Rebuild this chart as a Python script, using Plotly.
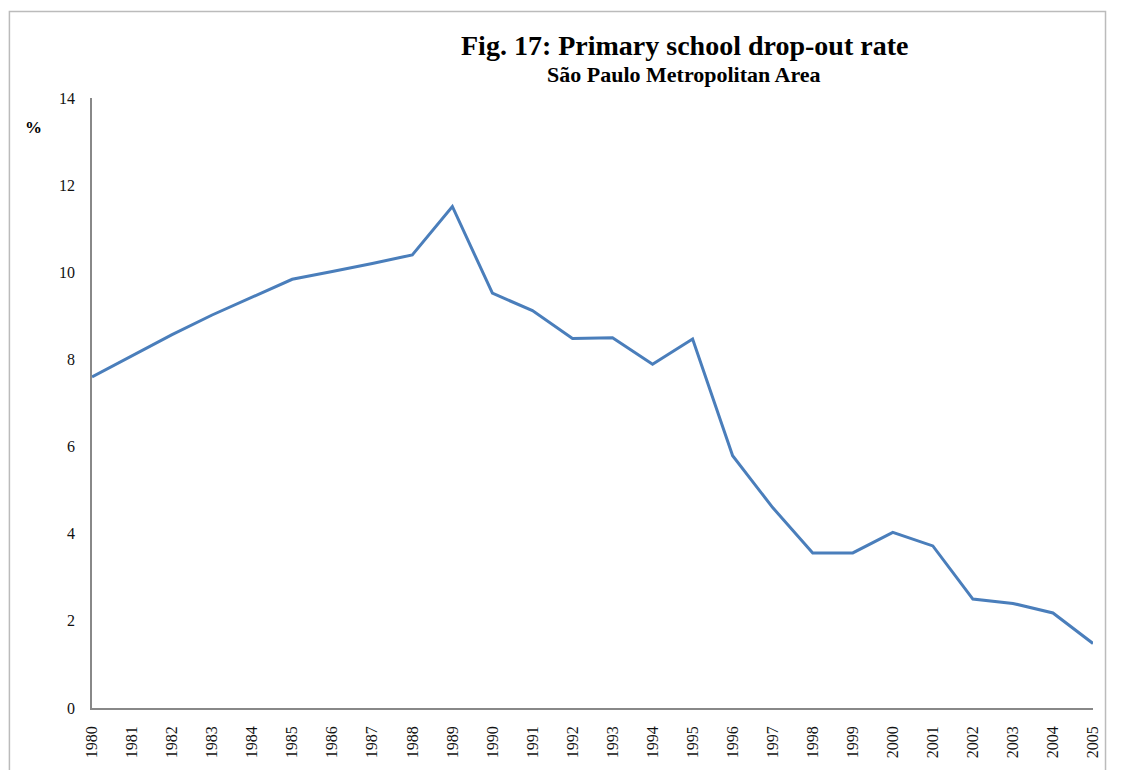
import plotly.graph_objects as go

years = list(range(1980, 2006))
rate = [7.6, 8.08, 8.57, 9.02, 9.43, 9.84, 10.02, 10.2, 10.4, 11.51,
        9.52, 9.12, 8.48, 8.5, 7.89, 8.47, 5.79, 4.6, 3.56, 3.56,
        4.03, 3.72, 2.5, 2.4, 2.18, 1.48]
y_ticks = [0, 2, 4, 6, 8, 10, 12, 14]

serif = "Liberation Serif, Times New Roman, serif"

fig = go.Figure()
fig.add_trace(go.Scatter(x=years, y=rate, mode="lines",
                         line=dict(color="#4a7ebb", width=3), showlegend=False))

# page body adds an 8px margin all round, so keep the figure inside the window
# (right margin leaves room for the 2005 label)
fig.update_layout(
    width=1105, height=762,
    margin=dict(l=84, r=14, t=90, b=51),
    paper_bgcolor="white", plot_bgcolor="white",
    font=dict(family=serif, color="#111", size=16),
)
fig.update_xaxes(range=[1980, 2005], tickvals=years, ticktext=[str(y) for y in years],
                 tickangle=-90, showgrid=False, zeroline=False,
                 showline=True, linecolor="#888", linewidth=1.5,
                 ticks="", ticklabelstandoff=10, tickfont=dict(size=16))
fig.update_yaxes(range=[0, 14], tickvals=y_ticks, showgrid=False, zeroline=False,
                 showline=True, linecolor="#888", linewidth=1.5,
                 ticks="", ticklabelstandoff=12, tickfont=dict(size=16))

fig.add_annotation(x=0.5917, y=1.0853, xref="paper", yref="paper",
                   xanchor="center", yanchor="middle",
                   text="<b>Fig. 17: Primary school drop-out rate</b>",
                   showarrow=False, font=dict(family=serif, size=28, color="#000"))
fig.add_annotation(x=0.5917, y=1.0386, xref="paper", yref="paper",
                   xanchor="center", yanchor="middle",
                   text="<b>São Paulo Metropolitan Area</b>",
                   showarrow=False, font=dict(family=serif, size=22, color="#000"))
fig.add_annotation(x=-0.0586, y=0.9517, xref="paper", yref="paper",
                   xanchor="center", yanchor="middle",
                   text="<b>%</b>", showarrow=False,
                   font=dict(family=serif, size=17, color="#000"))

# outer chart border
fig.add_shape(type="rect", xref="paper", yref="paper",
              x0=-0.0825, y0=-0.2, x1=1.0125, y1=1.1417,
              line=dict(color="#bbb", width=1.5), layer="below")

fig.write_html("out.html")
